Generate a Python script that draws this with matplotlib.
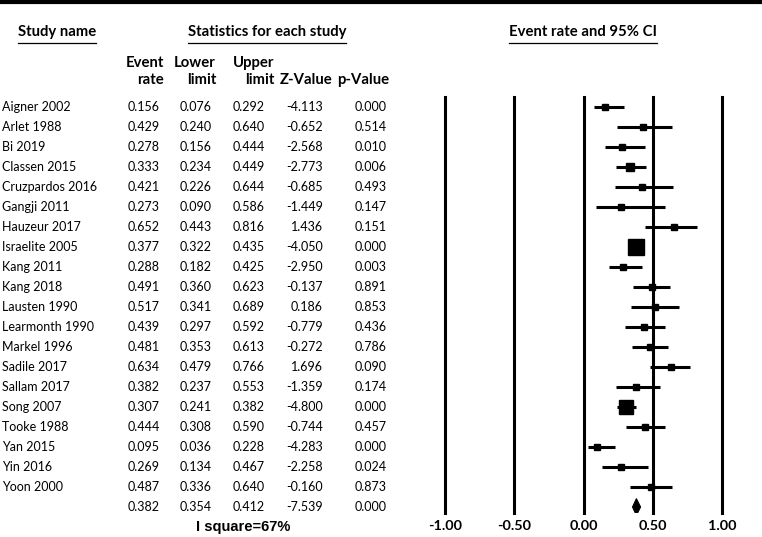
import matplotlib
matplotlib.use("Agg")
import matplotlib.pyplot as plt
from matplotlib import transforms
from matplotlib.lines import Line2D
from matplotlib.patches import Polygon

studies = ["Aigner 2002", "Arlet 1988", "Bi 2019", "Classen 2015", "Cruzpardos 2016",
           "Gangji 2011", "Hauzeur 2017", "Israelite 2005", "Kang 2011", "Kang 2018",
           "Lausten 1990", "Learmonth 1990", "Markel 1996", "Sadile 2017", "Sallam 2017",
           "Song 2007", "Tooke 1988", "Yan 2015", "Yin 2016", "Yoon 2000"]
event_rate = [0.156, 0.429, 0.278, 0.333, 0.421, 0.273, 0.652, 0.377, 0.288, 0.491,
              0.517, 0.439, 0.481, 0.634, 0.382, 0.307, 0.444, 0.095, 0.269, 0.487]
lower = [0.076, 0.240, 0.156, 0.234, 0.226, 0.090, 0.443, 0.322, 0.182, 0.360,
         0.341, 0.297, 0.353, 0.479, 0.237, 0.241, 0.308, 0.036, 0.134, 0.336]
upper = [0.292, 0.640, 0.444, 0.449, 0.644, 0.586, 0.816, 0.435, 0.425, 0.623,
         0.689, 0.592, 0.613, 0.766, 0.553, 0.382, 0.590, 0.228, 0.467, 0.640]
z_value = [-4.113, -0.652, -2.568, -2.773, -0.685, -1.449, 1.436, -4.050, -2.950, -0.137,
           0.186, -0.779, -0.272, 1.696, -1.359, -4.800, -0.744, -4.283, -2.258, -0.160]
p_value = [0.000, 0.514, 0.010, 0.006, 0.493, 0.147, 0.151, 0.000, 0.003, 0.891,
           0.853, 0.436, 0.786, 0.090, 0.174, 0.000, 0.457, 0.000, 0.024, 0.873]
rel_weight = [1.0, 0.95, 1.0, 1.15, 1.0, 1.0, 1.0, 2.4, 1.0, 1.0,
              1.0, 1.0, 1.0, 1.0, 1.0, 1.9, 1.0, 0.9, 1.0, 1.0]
summary = {"rate": 0.382, "lower": 0.354, "upper": 0.412, "z": -7.539, "p": 0.000}
i_square = "I square=67%"
tick_vals = [-1.0, -0.5, 0.0, 0.5, 1.0]
tick_labels = ["-1.00", "-0.50", "0.00", "0.50", "1.00"]

W, H = 762, 537
fig = plt.figure(figsize=(W / 100, H / 100), dpi=100)
FONT = "Lato"
fs = 9
fsb = 10.7

def fx(px):
    return px / W

def fy(py):
    return 1 - py / H

# forest axes in pixel box
ax_l, ax_r, ax_t, ax_b = 445, 722, 97, 513
ax = fig.add_axes([fx(ax_l), fy(ax_b), (ax_r - ax_l) / W, (ax_b - ax_t) / H])
n = len(studies)
ax.set_xlim(-1, 1)
ax.set_ylim(n + 0.3, -0.5)
for s in ax.spines.values():
    s.set_visible(False)
ax.set_yticks([])
ax.set_xticks(tick_vals)
ax.set_xticklabels(tick_labels, fontfamily=FONT, fontweight="bold", fontsize=10.4)
ax.tick_params(axis="x", length=0, pad=5)
for v in tick_vals:
    ax.axvline(v, color="black", lw=2.2, clip_on=False)

for i in range(n):
    ax.plot([lower[i], upper[i]], [i, i], color="black", lw=2.2, solid_capstyle="butt")
    ax.plot(event_rate[i], i, marker="s", color="black", markersize=5.0 * rel_weight[i],
            linestyle="none")

# summary diamond
ys = n
h = 0.42
diamond = Polygon([[summary["lower"], ys], [summary["rate"], ys - h],
                   [summary["upper"], ys], [summary["rate"], ys + h]],
                  closed=True, facecolor="black", edgecolor="black", lw=0.8)
ax.add_patch(diamond)

# table text
tr = transforms.blended_transform_factory(fig.transFigure, ax.transData)
col_right = [160, 212, 265, 323, 387]
for i in range(n):
    ax.text(fx(2), i, studies[i], transform=tr, ha="left", va="center",
            fontsize=fs, fontfamily=FONT)
    vals = [event_rate[i], lower[i], upper[i], z_value[i], p_value[i]]
    for c, v in zip(col_right, vals):
        ax.text(fx(c), i, f"{v:.3f}", transform=tr, ha="right", va="center",
                fontsize=fs, fontfamily=FONT)
svals = [summary["rate"], summary["lower"], summary["upper"], summary["z"], summary["p"]]
for c, v in zip(col_right, svals):
    ax.text(fx(c), n, f"{v:.3f}", transform=tr, ha="right", va="center",
            fontsize=fs, fontfamily=FONT)

fig.text(fx(243), fy(527), i_square, ha="center", va="center", fontsize=10.5,
         fontfamily="Liberation Sans", fontweight="bold")

# headers
hdr = []
hdr.append(fig.text(fx(18), fy(32), "Study name", ha="left", va="center",
                    fontsize=fsb, fontfamily=FONT, fontweight="bold"))
hdr.append(fig.text(fx(267), fy(32), "Statistics for each study", ha="center", va="center",
                    fontsize=fsb, fontfamily=FONT, fontweight="bold"))
hdr.append(fig.text(fx(583), fy(32), "Event rate and 95% CI", ha="center", va="center",
                    fontsize=fsb, fontfamily=FONT, fontweight="bold"))

sub_right = [164, 216, 274, 333, 389]
sub_top = ["Event", "Lower", "Upper", "", ""]
sub_bot = ["rate", "limit", "limit", "Z-Value", "p-Value"]
for c, t1, t2 in zip(sub_right, sub_top, sub_bot):
    if t1:
        fig.text(fx(c), fy(63), t1, ha="right", va="center", fontsize=fsb,
                 fontfamily=FONT, fontweight="bold")
    fig.text(fx(c), fy(80), t2, ha="right", va="center", fontsize=fsb,
             fontfamily=FONT, fontweight="bold")

# top rule
fig.add_artist(Line2D([0, 1], [fy(2), fy(2)], color="black", lw=3.0,
                      transform=fig.transFigure))

# underlines
fig.canvas.draw()
r = fig.canvas.get_renderer()
for t in hdr:
    bb = t.get_window_extent(renderer=r)
    x0, x1 = bb.x0 / W, bb.x1 / W
    yy = fy(43)
    fig.add_artist(Line2D([x0, x1], [yy, yy], color="black", lw=0.9,
                          transform=fig.transFigure))

fig.savefig("out.png", dpi=100)
